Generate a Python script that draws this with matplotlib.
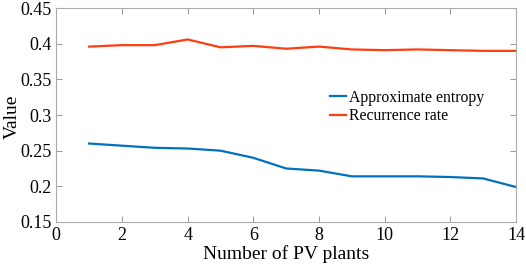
import numpy as np
import matplotlib
matplotlib.use('Agg')
import matplotlib.pyplot as plt

plt.rcParams['font.family'] = ['Liberation Serif', 'DejaVu Serif']

n_plants = [1, 2, 3, 4, 5, 6, 7, 8, 9, 10, 11, 12, 13, 14]
approx_entropy = [0.260, 0.257, 0.254, 0.253, 0.250, 0.240, 0.225, 0.222, 0.214, 0.214, 0.214, 0.213, 0.211, 0.199]
recurrence_rate = [0.396, 0.398, 0.398, 0.406, 0.395, 0.397, 0.393, 0.396, 0.392, 0.391, 0.392, 0.391, 0.390, 0.390]

fig, ax = plt.subplots(figsize=(5.26, 2.70), dpi=100)
fig.subplots_adjust(left=0.107, right=0.981, top=0.97, bottom=0.178)

ax.plot(n_plants, approx_entropy, color='#0072BD', lw=1.6, label='Approximate entropy')
ax.plot(n_plants, recurrence_rate, color='#FF3D12', lw=1.6, label='Recurrence rate')

ax.set_xlim(0, 14)
ax.set_ylim(0.15, 0.45)
ax.set_xticks(np.arange(0, 15, 2))
ax.set_yticks([0.15, 0.2, 0.25, 0.3, 0.35, 0.4, 0.45])
ax.set_yticklabels(['0.15', '0.2', '0.25', '0.3', '0.35', '0.4', '0.45'])
ax.tick_params(direction='in', top=True, right=True, labelsize=13, length=4, color='#888888', width=0.6)
for s in ax.spines.values():
    s.set_color('#aaaaaa')
    s.set_linewidth(0.8)

ax.set_xlabel('Number of PV plants', fontsize=14, labelpad=1)
ax.set_ylabel('Value', fontsize=14)
ax.yaxis.set_label_coords(-0.078, 0.49)

ax.legend(loc='center left', bbox_to_anchor=(0.595, 0.537), frameon=False, fontsize=11.3,
          handlelength=1.05, handletextpad=0.2, borderaxespad=0, borderpad=0, labelspacing=0.15)

fig.savefig('out.png')
